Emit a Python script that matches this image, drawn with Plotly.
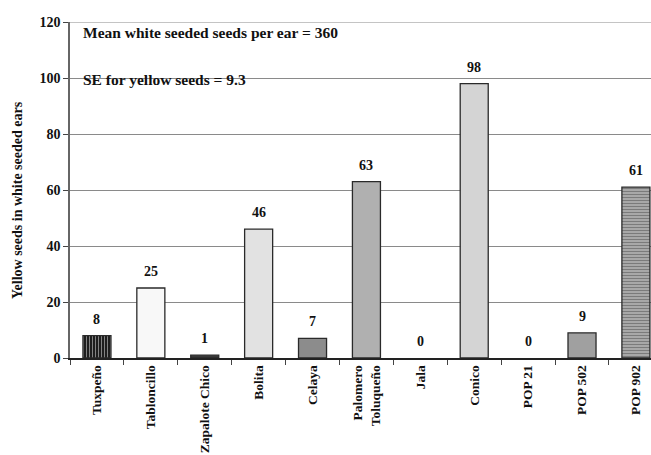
import plotly.graph_objects as go

# Maize populations and yellow seed counts in white seeded ears
categories = ["Tuxpeño", "Tabloncillo", "Zapalote Chico", "Bolita", "Celaya",
              "Palomero<br>Toluqueño", "Jala", "Conico", "POP 21", "POP 502", "POP 902"]
yellow_seeds = [8, 25, 1, 46, 7, 63, 0, 98, 0, 9, 61]
y_ticks = [0, 20, 40, 60, 80, 100, 120]

fills = ["#1e1e1e", "#f8f8f8", "#383838", "#e2e2e2", "#8c8c8c", "#b0b0b0",
         "#ffffff", "#d4d4d4", "#ffffff", "#a0a0a0", "#a8a8a8"]
pattern_shapes = ["|", "", "", "", "", "", "", "", "", "", "-"]
pattern_fg = ["#000000", "#000", "#000", "#000", "#000", "#000",
              "#000", "#000", "#000", "#000", "#8a8a8a"]
# empty bars get no outline
outline_widths = [1.3 if v > 0 else 0 for v in yellow_seeds]

serif = "Liberation Serif"
ink = "#111111"
plot_w, plot_h = 581, 336

fig = go.Figure()
fig.add_trace(go.Bar(
    x=categories,
    y=yellow_seeds,
    width=0.52,
    marker=dict(
        color=fills,
        line=dict(color="#2a2a2a", width=outline_widths),
        pattern=dict(shape=pattern_shapes, fgcolor=pattern_fg,
                     size=3, solidity=0.3),
    ),
))

# value labels above each bar
for cat, val in zip(categories, yellow_seeds):
    fig.add_annotation(x=cat, y=val, text=str(val), showarrow=False,
                       xanchor="center", yanchor="bottom", yshift=7,
                       font=dict(family=serif, size=14, color=ink, weight="bold"))

fig.add_annotation(text="Mean white seeded seeds per ear = 360",
                   xref="paper", yref="y", x=0.019, y=116.2,
                   xanchor="left", yanchor="middle", showarrow=False,
                   font=dict(family=serif, size=15.5, color=ink, weight="bold"))
fig.add_annotation(text="SE for yellow seeds = 9.3",
                   xref="paper", yref="y", x=0.019, y=99.6,
                   xanchor="left", yanchor="middle", showarrow=False,
                   font=dict(family=serif, size=15.5, color=ink, weight="bold"))

# vertical axis title
fig.add_annotation(text="Yellow seeds in white seeded ears",
                   xref="paper", yref="paper", x=-(70 - 17) / plot_w,
                   y=(358 - 22 - 178) / plot_h, textangle=-90,
                   xanchor="center", yanchor="middle", showarrow=False,
                   font=dict(family=serif, size=14, color=ink, weight="bold"))

# top gridline at 120
fig.add_shape(type="line", xref="paper", yref="y", x0=0, x1=1, y0=120, y1=120,
              line=dict(color="#8a8a8a", width=1), layer="below")

fig.update_layout(
    width=651, height=455,
    margin=dict(l=70, r=0, t=22, b=97),
    paper_bgcolor="white", plot_bgcolor="white",
    showlegend=False,
    xaxis=dict(
        range=[-0.5, 10.28],
        automargin=False,
        tickangle=-90,
        tickson="boundaries",
        ticks="outside", ticklen=5, tickcolor="#444444",
        showline=True, linecolor="#222222", linewidth=1.5,
        showgrid=False,
        tickfont=dict(family=serif, size=13.5, color=ink, weight="bold"),
    ),
    yaxis=dict(
        range=[0, 120],
        automargin=False,
        tickvals=y_ticks,
        ticks="outside", ticklen=5, tickcolor="#444444",
        showline=True, linecolor="#666666", linewidth=1.5,
        showgrid=True, gridcolor="#8a8a8a", gridwidth=1,
        zeroline=False,
        tickfont=dict(family=serif, size=14, color=ink, weight="bold"),
    ),
)

fig.write_html("out.html")
